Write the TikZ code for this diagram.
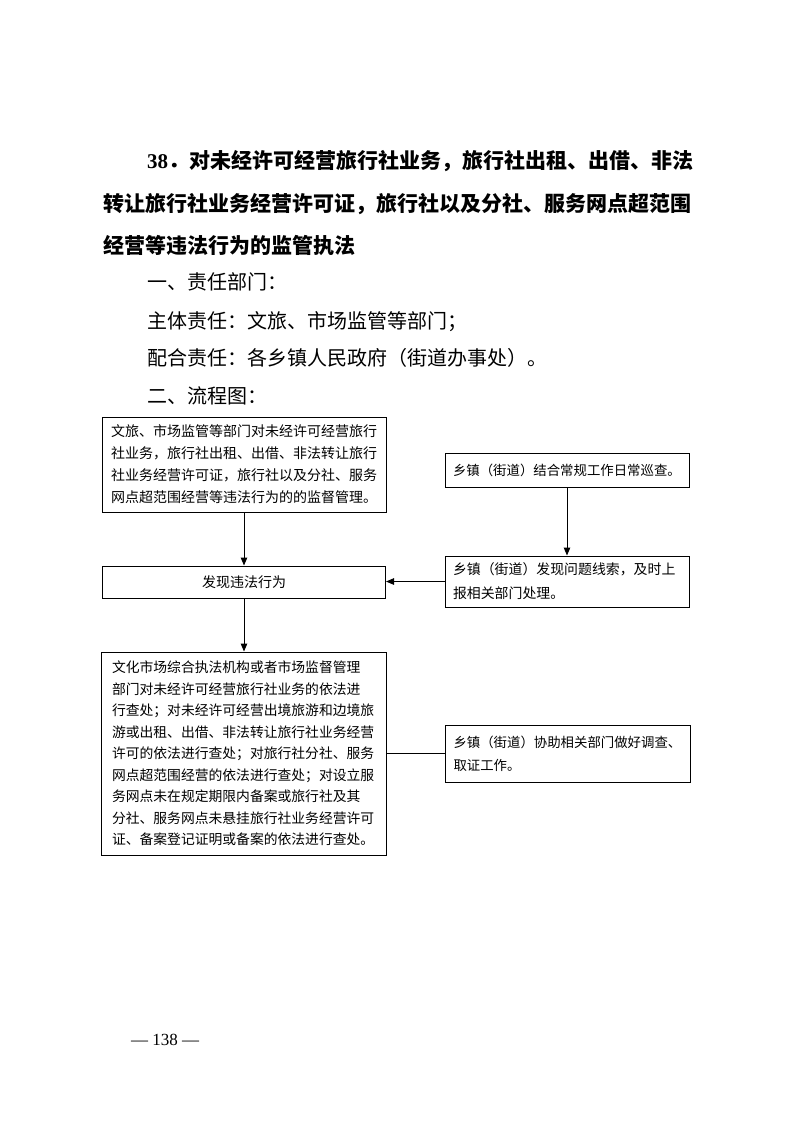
\documentclass[tikz,border=0pt]{standalone}
\usepackage{fontspec}
\setmainfont{Liberation Serif}
\newfontfamily\cjk{Noto Sans CJK SC}
\usetikzlibrary{arrows.meta}
\tikzset{
  box/.style={draw, line width=1pt, inner xsep=0pt, inner ysep=0pt, align=left, anchor=center},
  conn/.style={line width=1pt},
  arr/.style={conn, -{Triangle[length=8pt,width=6.5pt]}},
  head/.style={anchor=base west, inner sep=0pt, font=\fontsize{21}{21}\selectfont\cjk\bfseries},
  body/.style={anchor=base west, inner sep=0pt, font=\fontsize{20}{20}\selectfont\cjk},
}
\begin{document}
\begin{tikzpicture}[x=1pt,y=-1pt]
\useasboundingbox[fill=white] (0,0) rectangle (793,1122);

\node[head] (t1) at (147,168) {{\rmfamily\bfseries 38}．对未经许可经营旅行社业务，旅行社出租、出借、非法};
\node[head] (t2) at (103,211) {转让旅行社业务经营许可证，旅行社以及分社、服务网点超范围};
\node[head] (t3) at (103,253) {经营等违法行为的监管执法};
\node[body] (b1) at (147,289) {一、责任部门：};
\node[body] (b2) at (147,328) {主体责任：文旅、市场监管等部门；};
\node[body] (b3) at (147,365) {配合责任：各乡镇人民政府（街道办事处）。};
\node[body] (b4) at (147,403) {二、流程图：};

\node[box, minimum width=284pt, minimum height=95pt, text width=266pt,
  font=\fontsize{14}{22}\selectfont\cjk] (n1) at (244,464.5)
 {文旅、市场监管等部门对未经许可经营旅行\\社业务，旅行社出租、出借、非法转让旅行\\社业务经营许可证，旅行社以及分社、服务\\网点超范围经营等违法行为的的监督管理。};

\node[box, align=center, minimum width=283pt, minimum height=32pt,
  font=\fontsize{14}{14}\selectfont\cjk] (n2) at (244,582) {发现违法行为};

\node[box, minimum width=285pt, minimum height=203pt, text width=264pt,
  font=\fontsize{13.8}{21.5}\selectfont\cjk] (n3) at (244,753.5)
 {文化市场综合执法机构或者市场监督管理\\部门对未经许可经营旅行社业务的依法进\\行查处；对未经许可经营出境旅游和边境旅\\游或出租、出借、非法转让旅行社业务经营\\许可的依法进行查处；对旅行社分社、服务\\网点超范围经营的依法进行查处；对设立服\\务网点未在规定期限内备案或旅行社及其\\分社、服务网点未悬挂旅行社业务经营许可\\证、备案登记证明或备案的依法进行查处。};

\node[box, minimum width=244pt, minimum height=34pt, text width=228pt,
  font=\fontsize{13.4}{13.4}\selectfont\cjk] (n4) at (567,470)
 {乡镇（街道）结合常规工作日常巡查。};

\node[box, minimum width=244pt, minimum height=51pt, text width=228pt,
  font=\fontsize{13.9}{24}\selectfont\cjk] (n5) at (567,581.5)
 {乡镇（街道）发现问题线索，及时上\\报相关部门处理。};

\node[box, minimum width=245pt, minimum height=57pt, text width=229pt,
  font=\fontsize{13.4}{23}\selectfont\cjk] (n6) at (568,753.5)
 {乡镇（街道）协助相关部门做好调查、\\取证工作。};

\draw[arr] (n1.south) -- (n2.north);
\draw[arr] (n2.south) -- (n3.north);
\draw[arr] (n4.south) -- (n5.north);
\draw[arr] (n5.west) -- (n5.west -| n2.east);
\draw[conn] (n3.east) -- (n6.west);

\node[inner sep=0pt, font=\fontsize{17}{17}\selectfont] (pg) at (165,1040) {— 138 —};
\end{tikzpicture}
\end{document}
